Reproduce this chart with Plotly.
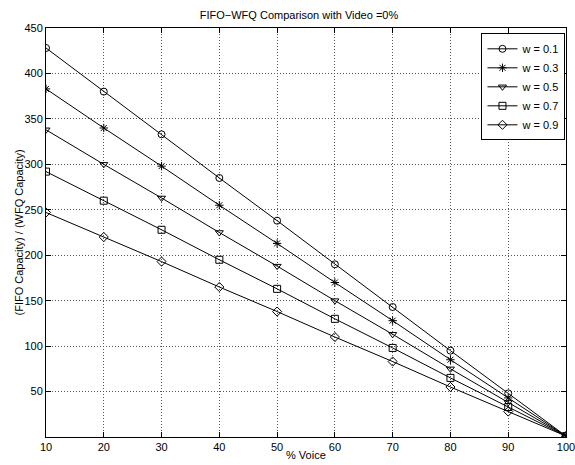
import plotly.graph_objects as go

voice = [10, 20, 30, 40, 50, 60, 70, 80, 90, 100]
w01 = [428, 380, 333, 285, 238, 190, 143, 95, 48, 1]
w03 = [383, 340, 298, 255, 213, 170, 128, 85, 43, 1]
w05 = [338, 300, 263, 225, 188, 150, 113, 75, 38, 1]
w07 = [292, 260, 228, 195, 163, 130, 98, 65, 33, 1]
w09 = [247, 220, 193, 165, 138, 110, 83, 55, 28, 1]
names = ["w = 0.1", "w = 0.3", "w = 0.5", "w = 0.7", "w = 0.9"]
series = [w01, w03, w05, w07, w09]
symbols = ["circle-open", "asterisk-open", "triangle-down-open", "square-open", "diamond-open"]
yticks = [50, 100, 150, 200, 250, 300, 350, 400, 450]
xticks = [10, 20, 30, 40, 50, 60, 70, 80, 90, 100]

W, H = 575, 465
fig = go.Figure()
for n, s, sym in zip(names, series, symbols):
    fig.add_trace(go.Scatter(
        x=voice, y=s, name=n, mode="lines+markers",
        line=dict(color="black", width=1),
        marker=dict(symbol=sym, size=7, color="black", line=dict(color="black", width=1)),
    ))

axis_common = dict(
    showline=True, linecolor="black", linewidth=1, mirror="ticks",
    ticks="inside", ticklen=5, tickcolor="black",
    showgrid=True, gridcolor="#555", griddash="1px,2px", gridwidth=1,
    zeroline=False, tickfont=dict(size=11, color="black"), automargin=False,
    ticklabeloverflow="allow",
)

fig.update_layout(
    width=W, height=H,
    margin=dict(l=46, r=9, t=28, b=28),
    paper_bgcolor="white", plot_bgcolor="white",
    font=dict(family="Liberation Sans, Arial, sans-serif", color="black", size=11),
    title=dict(text="FIFO\u2212WFQ Comparison with Video =0%", x=0.52, xanchor="center",
               y=1 - 15 / H, yanchor="middle", font=dict(size=11)),
    xaxis=dict(range=[10, 100], tickvals=xticks, **axis_common),
    yaxis=dict(range=[0, 450], tickvals=yticks, **axis_common),
    legend=dict(x=0.999, y=0.987, xanchor="right", yanchor="top",
                bgcolor="white", bordercolor="black", borderwidth=1,
                font=dict(size=11), tracegroupgap=0, itemwidth=30),
    showlegend=True,
    annotations=[
        dict(text="% Voice", xref="paper", yref="paper", x=0.5, y=-(455 - 437) / (H - 56),
             xanchor="center", yanchor="middle", showarrow=False, font=dict(size=11)),
        dict(text="(FIFO Capacity) / (WFQ Capacity)", xref="paper", yref="paper",
             x=-(46 - 18) / (W - 55), y=0.5, xanchor="center", yanchor="middle",
             textangle=-90, showarrow=False, font=dict(size=11)),
    ],
)

fig.write_html("out.html")
